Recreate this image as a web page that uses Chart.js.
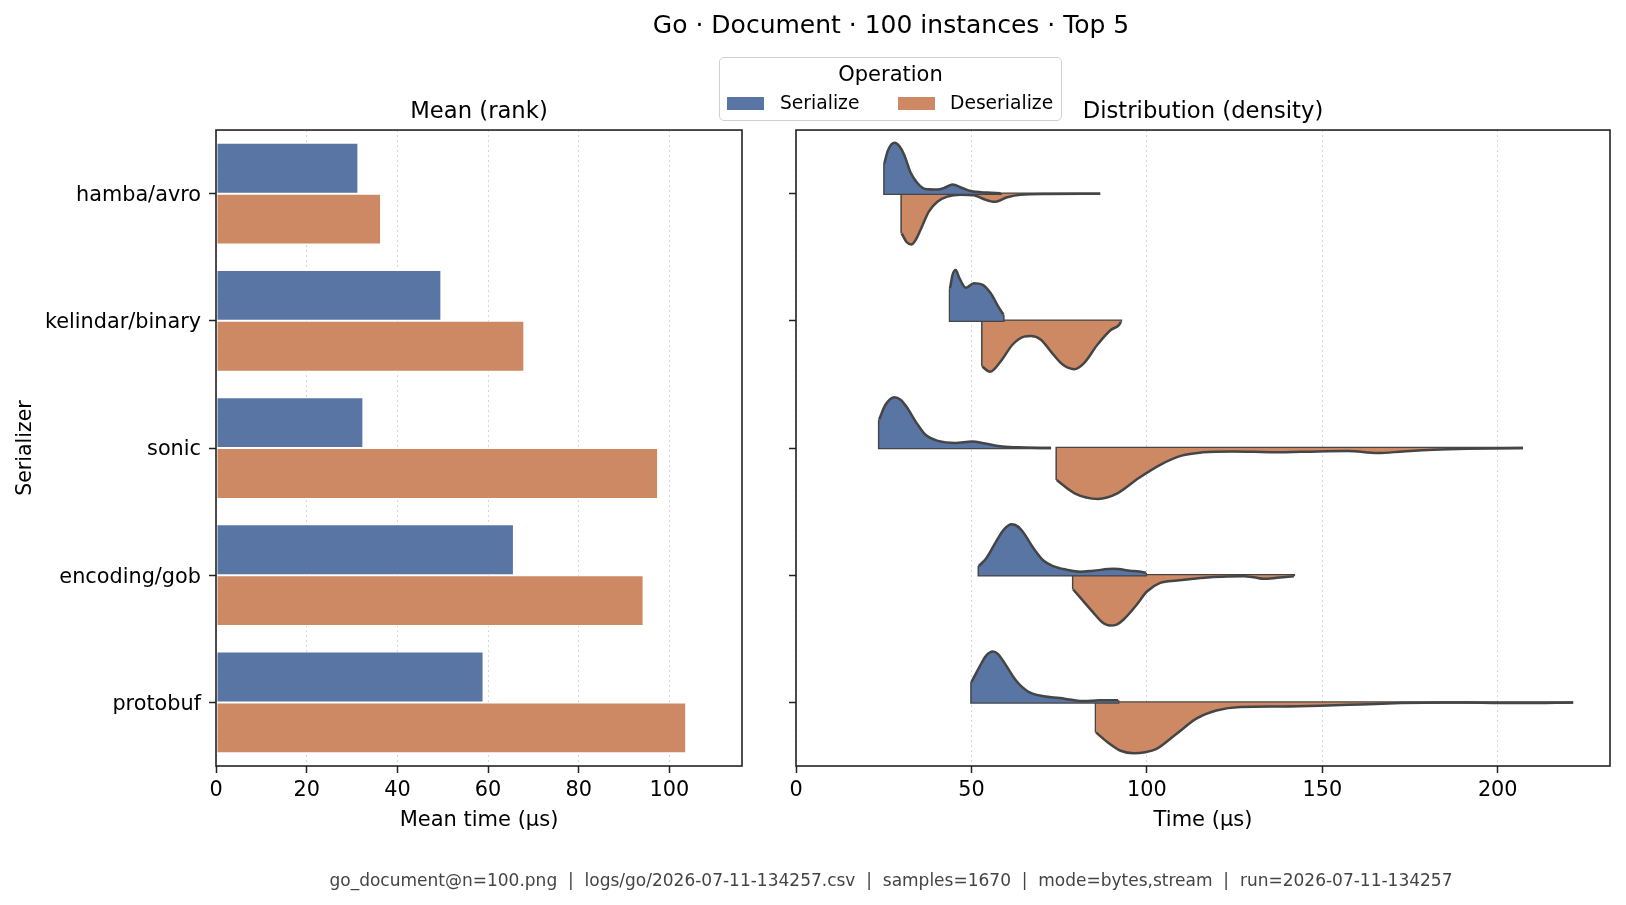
<!DOCTYPE html>
<html>
<head>
<meta charset="utf-8">
<title>Go · Document · 100 instances · Top 5</title>
<script src="https://cdn.jsdelivr.net/npm/chart.js@4.4.1/dist/chart.umd.min.js"></script>
<style>
  body { margin: 0; background: #fff; font-family: 'DejaVu Sans', sans-serif; color: #000; }
  #page { position: relative; width: 1626px; height: 905px; overflow: hidden; background: #fff; }
  .panel { position: absolute; top: 0; height: 905px; }
  #suptitle { position: absolute; left: 391px; width: 1000px; top: 10px; text-align: center; font-size: 25px; line-height: 30px; }
  #footer { position: absolute; left: 191px; width: 1400px; top: 870px; text-align: center; font-size: 17px; line-height: 20px; color: #444; white-space: pre; }
  #legend { position: absolute; left: 719px; top: 57px; width: 341px; height: 62px; border: 1px solid #d0d0d0; border-radius: 5px; background: rgba(255,255,255,0.8); }
  #legend .head { position: absolute; left: 0; width: 100%; top: 4px; text-align: center; font-size: 21px; line-height: 24px; }
  #legend .sw { position: absolute; top: 39px; width: 37px; height: 13px; }
  #legend .lab { position: absolute; top: 34px; font-size: 18.7px; line-height: 22px; }
</style>
</head>
<body>
<div id="page">
  <div class="panel" style="left:0;width:760px"><canvas id="meanChart"></canvas></div>
  <div class="panel" style="left:760px;width:866px"><canvas id="densChart"></canvas></div>
  <div id="suptitle">Go · Document · 100 instances · Top 5</div>
  <div id="legend">
    <div class="head">Operation</div>
    <div class="sw" style="left:7px;background:#5875a4"></div>
    <div class="lab" style="left:60px">Serialize</div>
    <div class="sw" style="left:178px;background:#cc8963"></div>
    <div class="lab" style="left:230px">Deserialize</div>
  </div>
  <div id="footer">go_document@n=100.png  |  logs/go/2026-07-11-134257.csv  |  samples=1670  |  mode=bytes,stream  |  run=2026-07-11-134257</div>
</div>
<script>
const serializers = ['hamba/avro', 'kelindar/binary', 'sonic', 'encoding/gob', 'protobuf'];
const operations = ['Serialize', 'Deserialize'];

// mean time per serializer (µs)
const meanSerialize = [31.4, 49.7, 32.5, 65.7, 59.0];
const meanDeserialize = [36.4, 68.0, 97.5, 94.3, 103.7];

const meanTicks = [0, 20, 40, 60, 80, 100];
const timeTicks = [0, 50, 100, 150, 200];

// density curves: [time µs, relative width (1 = widest)]
const avroSer = [[25.2,0.60],[26.2,0.85],[28.1,1.0],[29.5,0.93],[30.8,0.77],[32.7,0.41],[34.6,0.21],[36.9,0.09],[40.3,0.08],[42.5,0.12],[44.6,0.18],[47.4,0.11],[49.8,0.05],[54.5,0.02],[58.3,0.01]];
const avroDeser = [[30.1,0.78],[31.5,0.95],[32.9,1.0],[34.2,0.9],[35.5,0.71],[37.9,0.35],[40.3,0.16],[43.1,0.06],[46.9,0.02],[50.7,0.03],[53.6,0.11],[56.6,0.16],[60.2,0.07],[64.0,0.02],[72.0,0.005],[86.7,0.0]];
const kelindarSer = [[43.9,0.64],[44.6,0.9],[45.5,1.0],[46.5,0.85],[48.4,0.65],[50.7,0.74],[53.1,0.71],[55.5,0.54],[57.4,0.31],[59.1,0.12]];
const kelindarDeser = [[53.1,0.90],[55.3,1.0],[58.3,0.80],[61.7,0.47],[65.0,0.31],[66.9,0.30],[69.8,0.37],[72.6,0.60],[76.0,0.86],[79.3,0.95],[82.1,0.83],[85.9,0.47],[89.7,0.18],[92.1,0.08],[92.6,0.02]];
const sonicSer = [[23.7,0.56],[25.5,0.85],[28.1,1.0],[29.8,0.95],[31.4,0.82],[34.4,0.49],[36.9,0.26],[40.5,0.14],[45.4,0.10],[50.2,0.13],[53.9,0.09],[58.8,0.03],[64.8,0.01],[72.7,0.0]];
const sonicDeser = [[74.3,0.63],[79.4,0.89],[86.1,1.0],[91.6,0.89],[97.7,0.59],[103.8,0.33],[109.9,0.15],[115.9,0.085],[124.5,0.066],[136.6,0.085],[148.8,0.066],[157.3,0.06],[165.8,0.10],[173.1,0.066],[181.6,0.033],[191.4,0.013],[207.2,0.0]];
const gobSer = [[52.1,0.18],[54.3,0.34],[57.1,0.67],[59.3,0.9],[61.4,1.0],[63.2,0.96],[64.8,0.84],[67.6,0.54],[70.5,0.29],[73.3,0.18],[77.1,0.11],[81.0,0.07],[84.8,0.09],[90.5,0.125],[95.2,0.09],[99.0,0.06],[99.7,0.05]];
const gobDeser = [[79.0,0.28],[81.9,0.51],[84.8,0.74],[87.2,0.92],[89.5,0.99],[91.4,0.97],[93.3,0.875],[97.1,0.58],[100.0,0.32],[103.8,0.15],[108.6,0.105],[113.3,0.07],[118.1,0.04],[122.9,0.026],[127.6,0.02],[130.5,0.04],[133.3,0.07],[137.1,0.05],[141.9,0.02]];
const protobufSer = [[50.0,0.40],[52.3,0.70],[54.2,0.92],[56.1,1.0],[57.6,0.95],[59.2,0.80],[62.6,0.44],[66.0,0.22],[70.6,0.12],[75.2,0.086],[78.6,0.05],[82.0,0.026],[86.6,0.04],[91.8,0.04]];
const protobufDeser = [[85.5,0.59],[88.9,0.79],[92.5,0.95],[96.3,1.0],[99.5,0.98],[102.6,0.92],[108.4,0.62],[114.1,0.32],[119.8,0.16],[126.7,0.09],[138.1,0.08],[149.5,0.066],[161.0,0.04],[172.4,0.013],[183.9,0.0],[195.3,0.007],[206.8,0.013],[221.5,0.0]];

const serCurves = [avroSer, kelindarSer, sonicSer, gobSer, protobufSer];
const deserCurves = [avroDeser, kelindarDeser, sonicDeser, gobDeser, protobufDeser];

const SER = '#5875a4';
const DESER = '#cc8963';
const EDGE = '#454545';
const HALF = 0.4;   // max half-width of a violin, in category units

Chart.defaults.font.family = "'DejaVu Sans', sans-serif";
Chart.defaults.color = '#000';
Chart.defaults.animation = false;

// box around the plot area like matplotlib spines
const frame = {
  id: 'frame',
  afterDatasetsDraw(chart) {
    const {ctx, chartArea: a} = chart;
    ctx.save();
    ctx.strokeStyle = '#222';
    ctx.lineWidth = 1.6;
    ctx.strokeRect(a.left, a.top, a.right - a.left, a.bottom - a.top);
    ctx.restore();
  }
};

const tickGrid = {drawOnChartArea: false, offset: false, tickLength: 7, tickColor: '#222', tickWidth: 1.5};
const xGrid = {color: '#d6d6d6', lineWidth: 1, tickLength: 7, tickColor: '#222', tickWidth: 1.5};

const titleOpts = (text) => ({
  display: true, text: text, color: '#000', fullSize: false,
  font: {size: 22.7, weight: 'normal'},
  padding: {top: 98, bottom: 4.8}
});

new Chart(document.getElementById('meanChart'), {
  type: 'bar',
  data: {
    labels: serializers,
    datasets: [
      {label: operations[0], data: meanSerialize, backgroundColor: SER, borderColor: '#fff', borderWidth: 1, borderSkipped: false, categoryPercentage: 0.8, barPercentage: 1},
      {label: operations[1], data: meanDeserialize, backgroundColor: DESER, borderColor: '#fff', borderWidth: 1, borderSkipped: false, categoryPercentage: 0.8, barPercentage: 1}
    ]
  },
  options: {
    indexAxis: 'y',
    responsive: true,
    maintainAspectRatio: false,
    events: [],
    layout: {padding: {left: 0, right: 18, top: 0, bottom: 59}},
    plugins: {
      legend: {display: false},
      tooltip: {enabled: false},
      title: titleOpts('Mean (rank)')
    },
    scales: {
      y: {
        grid: tickGrid,
        border: {display: false},
        ticks: {font: {size: 20.8}, padding: 8, labelOffset: 2, color: '#000'},
        title: {display: true, text: 'Serializer', font: {size: 20.5}, padding: {top: 13}, color: '#000'},
        afterFit(s) { s.width = 216; }
      },
      x: {
        type: 'linear',
        min: 0,
        max: 116,
        grid: xGrid,
        border: {display: false, dash: [2, 3]},
        ticks: {font: {size: 20.8}, padding: 5, color: '#000'},
        afterBuildTicks(s) { s.ticks = meanTicks.map(v => ({value: v})); },
        title: {display: true, text: 'Mean time (µs)', font: {size: 21}, padding: {bottom: 13}, color: '#000'},
        afterFit(s) { s.height = 80; }
      }
    }
  },
  plugins: [frame]
});

function halfViolin(curve, row, dir, color) {
  const pts = curve.map(p => ({x: p[0], y: row + dir * HALF * p[1]}));
  const first = curve[0], last = curve[curve.length - 1];
  return [
    {data: pts, fill: {value: row}, backgroundColor: color, borderColor: EDGE, borderWidth: 2.5,
     cubicInterpolationMode: 'monotone', pointRadius: 0},
    {data: [pts[0], {x: first[0], y: row}, {x: last[0], y: row}, pts[pts.length - 1]],
     fill: false, borderColor: EDGE, borderWidth: 2.5, tension: 0, pointRadius: 0}
  ];
}

const densSets = [];
serializers.forEach((name, i) => {
  densSets.push(...halfViolin(serCurves[i], i, -1, SER));
  densSets.push(...halfViolin(deserCurves[i], i, 1, DESER));
});

new Chart(document.getElementById('densChart'), {
  type: 'line',
  data: {datasets: densSets},
  options: {
    responsive: true,
    maintainAspectRatio: false,
    events: [],
    layout: {padding: {left: 0, right: 16, top: 0, bottom: 59}},
    plugins: {
      legend: {display: false},
      tooltip: {enabled: false},
      title: titleOpts('Distribution (density)')
    },
    scales: {
      y: {
        type: 'linear',
        min: -0.5,
        max: 4.5,
        reverse: true,
        grid: tickGrid,
        border: {display: false},
        ticks: {callback: () => ''},
        afterBuildTicks(s) { s.ticks = serializers.map((c, i) => ({value: i})); },
        afterFit(s) { s.width = 36; }
      },
      x: {
        type: 'linear',
        min: 0,
        max: 232,
        grid: xGrid,
        border: {display: false, dash: [2, 3]},
        ticks: {font: {size: 20.8}, padding: 5, color: '#000'},
        afterBuildTicks(s) { s.ticks = timeTicks.map(v => ({value: v})); },
        title: {display: true, text: 'Time (µs)', font: {size: 21}, padding: {bottom: 13}, color: '#000'},
        afterFit(s) { s.height = 80; }
      }
    }
  },
  plugins: [frame]
});
</script>
</body>
</html>
